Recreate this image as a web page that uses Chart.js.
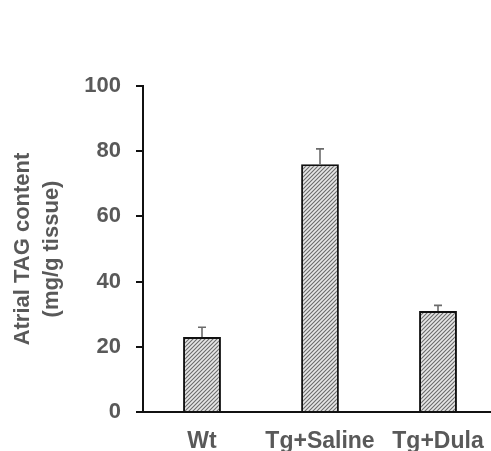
<!DOCTYPE html>
<html><head><meta charset="utf-8">
<script src="https://cdn.jsdelivr.net/npm/chart.js@4/dist/chart.umd.min.js"></script>
<style>html,body{margin:0;padding:0;background:#fff;overflow:hidden;}canvas{display:block;}</style>
</head><body>
<canvas id="c" width="497" height="451"></canvas>
<script>
const categories = ['Wt', 'Tg+Saline', 'Tg+Dula'];
const values = [23, 76, 31];
const errors = [3, 4.7, 1.7];
const yTicks = [0, 20, 40, 60, 80, 100];
const yTitle = ['Atrial TAG content', '(mg/g tissue)'];

function hatch() {
  const c = document.createElement('canvas');
  c.width = 4; c.height = 4;
  const g = c.getContext('2d');
  g.fillStyle = '#e6e6e6';
  g.fillRect(0, 0, 4, 4);
  g.strokeStyle = '#6a6a6a';
  g.lineWidth = 1.1;
  g.beginPath();
  g.moveTo(-1, 5); g.lineTo(5, -1);
  g.moveTo(-1, 1); g.lineTo(1, -1);
  g.moveTo(3, 5); g.lineTo(5, 3);
  g.stroke();
  return document.getElementById('c').getContext('2d').createPattern(c, 'repeat');
}

const errPlugin = {
  id: 'err',
  afterDatasetsDraw(chart) {
    const ctx = chart.ctx, ys = chart.scales.y;
    const meta = chart.getDatasetMeta(0);
    ctx.save();
    ctx.strokeStyle = '#6b6b6b';
    ctx.lineWidth = 1.6;
    meta.data.forEach((bar, i) => {
      const top = ys.getPixelForValue(values[i] + errors[i]);
      ctx.beginPath();
      ctx.moveTo(bar.x, bar.y);
      ctx.lineTo(bar.x, top);
      ctx.moveTo(bar.x - 4, top);
      ctx.lineTo(bar.x + 4, top);
      ctx.stroke();
    });
    ctx.restore();
  }
};

const font = "'Liberation Sans', Arial, sans-serif";
new Chart(document.getElementById('c'), {
  type: 'bar',
  data: {
    labels: categories,
    datasets: [{
      data: values,
      backgroundColor: hatch(),
      borderColor: '#111',
      borderWidth: 2,
      borderSkipped: 'bottom',
      barPercentage: 0.32,
      categoryPercentage: 1
    }]
  },
  options: {
    responsive: false,
    animation: false,
    layout: { padding: { top: 86, right: 0, left: 0, bottom: 0 } },
    plugins: { legend: { display: false }, tooltip: { enabled: false } },
    scales: {
      x: {
        grid: { display: false },
        border: { color: '#111', width: 2 },
        ticks: { color: '#595959', font: { family: font, size: 23, weight: 'bold' }, padding: 8, maxRotation: 0 },
        afterFit(s) { s.height = 39; }
      },
      y: {
        min: 0, max: 100,
        afterBuildTicks(s) { s.ticks = yTicks.map(v => ({ value: v })); },
        grid: { drawOnChartArea: false, drawTicks: true, tickLength: 7, color: '#111', lineWidth: 2 },
        border: { color: '#111', width: 2 },
        ticks: { color: '#595959', font: { family: font, size: 22, weight: 'bold' }, padding: 15 },
        title: { display: true, text: yTitle, color: '#595959', font: { family: font, size: 22, weight: 'bold', lineHeight: 1.3 }, padding: { top: 9, bottom: 0 } },
        afterFit(s) { s.width = 143; }
      }
    }
  },
  plugins: [errPlugin]
});
</script>
</body></html>
